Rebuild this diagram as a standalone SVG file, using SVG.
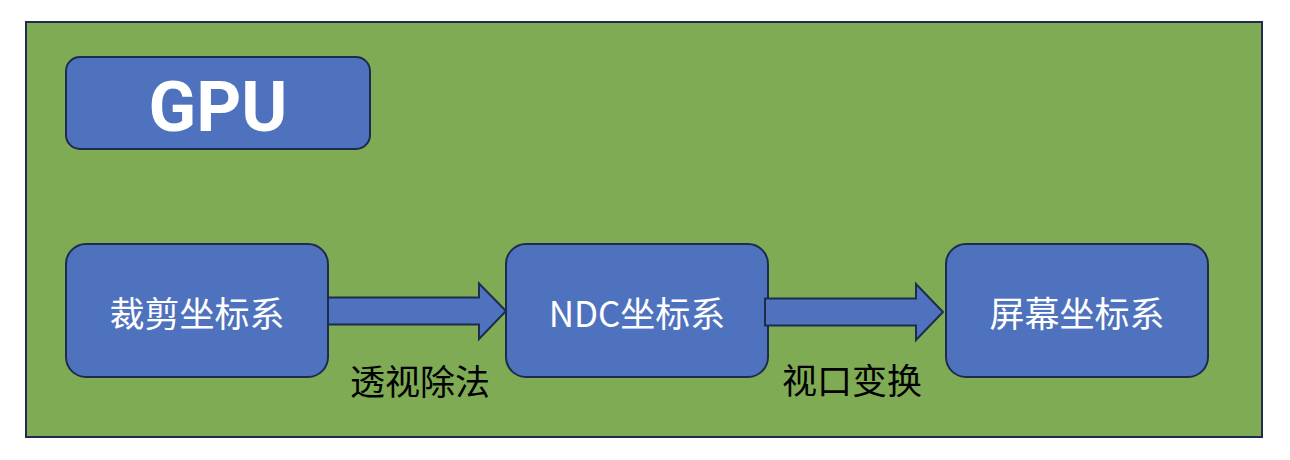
<svg xmlns="http://www.w3.org/2000/svg" width="1290" height="460" viewBox="0 0 1290 460">
  <style>
    .bg { fill: #7FAB55; stroke: #1E2B4E; stroke-width: 2; }
    .box { fill: #4F72BE; stroke: #1E2B4E; stroke-width: 2; }
    .arrow { fill: #4F72BE; stroke: #1E2B4E; stroke-width: 2; stroke-linejoin: miter; }
    .t { font-family: "Noto Sans CJK SC", "Noto Sans", sans-serif; font-size: 35px; text-anchor: middle; dominant-baseline: central; }
    .w { fill: #FFFFFF; }
    .k { fill: #000000; }
    .gpu { font-family: Roboto, "Liberation Sans", sans-serif; font-weight: bold; font-size: 70px; fill: #FFFFFF; text-anchor: middle; }
  </style>
  <rect width="1290" height="460" fill="#FFFFFF"/>
  <rect id="frame" class="bg" x="26" y="22" width="1236" height="415"/>
  <g id="gpu">
    <rect class="box" x="66" y="57" width="304" height="92" rx="14"/>
    <text class="gpu" x="218" y="131">GPU</text>
  </g>
  <g id="clip">
    <rect class="box" x="66" y="244" width="262" height="133" rx="20"/>
    <text class="t w" x="197" y="311">裁剪坐标系</text>
  </g>
  <g id="ndc">
    <rect class="box" x="506" y="244" width="262" height="133" rx="20"/>
    <text class="t w" x="637" y="311">NDC坐标系</text>
  </g>
  <g id="screen">
    <rect class="box" x="946" y="244" width="262" height="133" rx="20"/>
    <text class="t w" x="1077" y="311">屏幕坐标系</text>
  </g>
  <g id="connectors">
    <polygon class="arrow" points="328,297.5 479,297.5 479,283.5 506,311 479,339 479,324.5 328,324.5"/>
    <polygon class="arrow" points="765,298.5 916,298.5 916,284 943,312 916,340 916,325.5 765,325.5"/>
    <text class="t k" x="420" y="379">透视除法</text>
    <text class="t k" x="852" y="378">视口变换</text>
  </g>
</svg>
